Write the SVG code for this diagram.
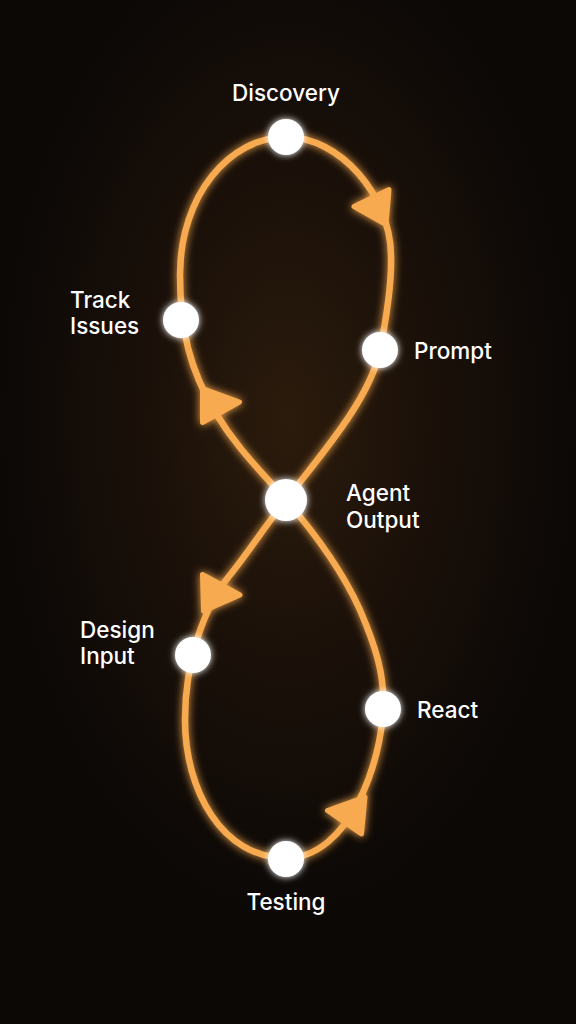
<svg xmlns="http://www.w3.org/2000/svg" width="576" height="1024" viewBox="0 0 576 1024">
<defs>
<radialGradient id="bg" cx="288" cy="420" r="420" gradientUnits="userSpaceOnUse" gradientTransform="translate(288 420) scale(0.7 1.2) translate(-288 -420)">
<stop offset="0" stop-color="#2b1b0c"/>
<stop offset="0.5" stop-color="#1a1009"/>
<stop offset="1" stop-color="#0b0806"/>
</radialGradient>
<filter id="glow" x="-30%" y="-30%" width="160%" height="160%">
<feGaussianBlur in="SourceGraphic" stdDeviation="4" result="b"/>
<feMerge><feMergeNode in="b"/><feMergeNode in="SourceGraphic"/></feMerge>
</filter>
<filter id="nglow" x="-80%" y="-80%" width="260%" height="260%">
<feGaussianBlur in="SourceGraphic" stdDeviation="3.5" result="b"/>
<feMerge><feMergeNode in="b"/><feMergeNode in="SourceGraphic"/></feMerge>
</filter>
<style>
.loop{fill:none;stroke:#f7aa50;stroke-width:6.5;stroke-linecap:round}
.arrow{fill:#f7aa50;stroke:#f7aa50;stroke-width:5;stroke-linejoin:round}
.node{fill:#ffffff;filter:url(#nglow)}
.lbl{fill:#ffffff;font-family:Inter,"Open Sans","Liberation Sans",sans-serif;font-size:22.5px;font-weight:500}
</style>
</defs>
<rect width="576" height="1024" fill="url(#bg)"/>
<g id="connectors" filter="url(#glow)">
<path class="loop" d="M286,500 C318,458 370,400 380,350 C386,320 392,285 391,255 C390,195 340,137 286,137 C230,137 180,195 180,275 C180,330 190,370 215,412 C238,450 262,472 286,500 C312,530 342,570 360,610 C375,645 385,675 383,708 C382,760 350,858 286,858 C222,858 185,790 185,720 C185,660 205,605 230,575 C250,550 268,522 286,500 Z"/>
<polygon class="arrow" points="354,206.5 389,189.5 386,224.5"/>
<polygon class="arrow" points="202.5,388.5 239.5,402 202.5,422.5"/>
<polygon class="arrow" points="202.5,574.5 240,595 203.5,611"/>
<polygon class="arrow" points="327.5,810.5 365,797 361.5,834"/>
</g>
<g id="node-discovery"><circle class="node" cx="286" cy="137" r="18"/><text class="lbl" x="286" y="101" text-anchor="middle">Discovery</text></g>
<g id="node-prompt"><circle class="node" cx="380" cy="350" r="18"/><text class="lbl" x="414" y="359">Prompt</text></g>
<g id="node-agent-output"><circle class="node" cx="286" cy="500" r="21"/><text class="lbl" x="346" y="501">Agent</text><text class="lbl" x="346" y="528">Output</text></g>
<g id="node-track-issues"><circle class="node" cx="181" cy="320" r="18"/><text class="lbl" x="70" y="308">Track</text><text class="lbl" x="70" y="334">Issues</text></g>
<g id="node-design-input"><circle class="node" cx="193" cy="655" r="18"/><text class="lbl" x="80" y="638">Design</text><text class="lbl" x="80" y="664">Input</text></g>
<g id="node-react"><circle class="node" cx="383" cy="709" r="18"/><text class="lbl" x="417" y="718">React</text></g>
<g id="node-testing"><circle class="node" cx="286" cy="859" r="18"/><text class="lbl" x="286" y="910" text-anchor="middle">Testing</text></g>
</svg>
